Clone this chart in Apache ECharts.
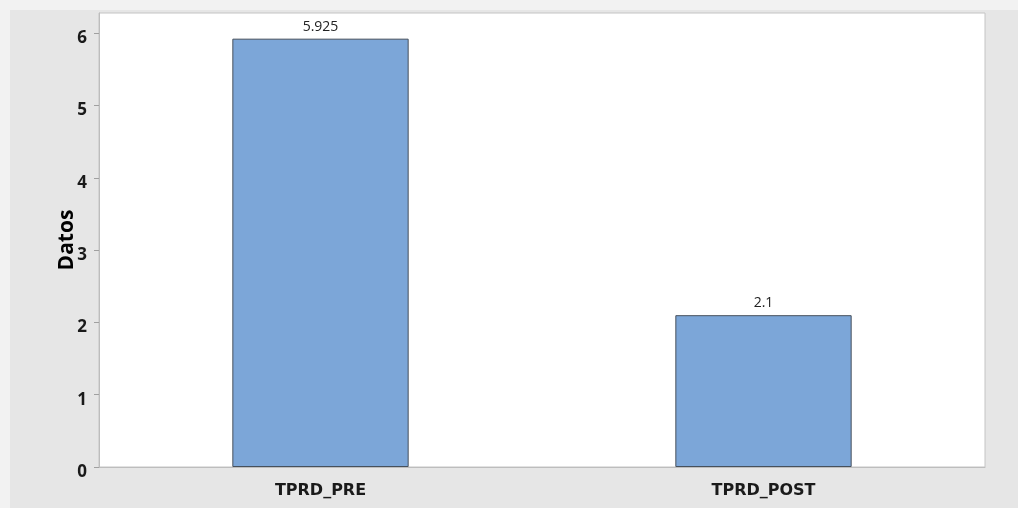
<!DOCTYPE html>
<html>
<head>
<meta charset="utf-8">
<style>
  html, body { margin: 0; padding: 0; background: #f0f0f0; }
  #chart { width: 1018px; height: 508px; }
</style>
<script src="https://cdn.jsdelivr.net/npm/echarts@6/dist/echarts.min.js"></script>
</head>
<body>
<div id="chart"></div>
<script>
// Mean values per measurement
const categories = ['TPRD_PRE', 'TPRD_POST'];
const values = [5.925, 2.1];
const yTicks = [0, 1, 2, 3, 4, 5, 6];
const yAxisName = 'Datos';

const chart = echarts.init(document.getElementById('chart'), null, { renderer: 'canvas' });
const font = '"Open Sans", "Noto Sans", sans-serif';

chart.setOption({
  backgroundColor: '#f2f2f2',
  graphic: [{
    type: 'rect',
    z: -10,
    silent: true,
    shape: { x: 10, y: 10, width: 1008, height: 498 },
    style: { fill: '#e6e6e6' }
  }],
  grid: {
    left: 99, top: 13, right: 33, bottom: 41,
    show: true,
    backgroundColor: '#ffffff',
    borderColor: '#c4c4c4',
    borderWidth: 1
  },
  xAxis: {
    type: 'category',
    data: categories,
    axisLine: { lineStyle: { color: '#bdbdbd', width: 1 } },
    axisTick: { alignWithLabel: true, length: 5, lineStyle: { color: '#a0a0a0' } },
    axisLabel: {
      color: '#1a1a1a', fontFamily: '"DejaVu Sans", sans-serif', fontWeight: 'bold', fontSize: 16, margin: 16
    }
  },
  yAxis: {
    type: 'value',
    min: 0,
    max: 6.28,
    interval: 1,
    name: yAxisName,
    nameLocation: 'middle',
    nameGap: 21,
    nameMoveOverlap: false,
    nameTextStyle: { color: '#000', fontFamily: font, fontWeight: 'bold', fontSize: 21 },
    axisLine: { show: true, lineStyle: { color: '#bdbdbd', width: 1 } },
    axisTick: { show: true, length: 5, lineStyle: { color: '#a0a0a0' }, customValues: yTicks },
    axisLabel: {
      color: '#1a1a1a', fontFamily: font, fontWeight: 'bold', fontSize: 17, margin: 12,
      verticalAlign: 'top',
      lineHeight: 10,
      customValues: yTicks
    },
    splitLine: { show: false }
  },
  series: [{
    type: 'bar',
    data: values,
    barWidth: '39.8%',
    itemStyle: { color: '#7ca6d8', borderColor: '#46505c', borderWidth: 1 },
    label: {
      show: true,
      position: 'top',
      distance: 5,
      color: '#222', fontFamily: font, fontSize: 14,
      formatter: p => String(p.value)
    }
  }]
});
</script>
</body>
</html>
